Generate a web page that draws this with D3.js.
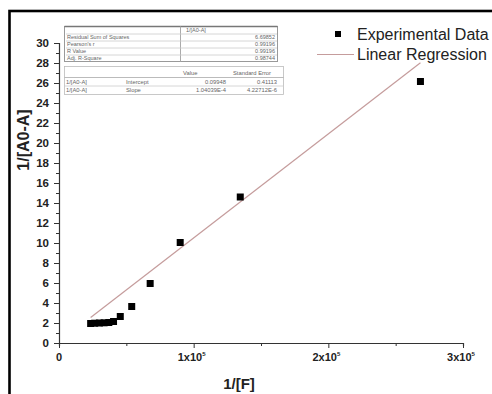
<!DOCTYPE html>
<html>
<head>
<meta charset="utf-8">
<script src="https://cdn.jsdelivr.net/npm/d3@7"></script>
<style>
  html, body { margin: 0; padding: 0; background: #fff; }
  svg { display: block; font-family: "Liberation Sans", Arial, sans-serif; }
</style>
</head>
<body>
<svg id="chart" width="492" height="394"></svg>
<script>
// Measured reciprocal data: 1/[F] against 1/[A0-A]
const invF = [23500, 26500, 30000, 33500, 37000, 40500, 45500, 54000, 67700, 90000, 134600, 268400];
const invA = [1.95, 1.98, 2.0, 2.02, 2.05, 2.15, 2.65, 3.65, 5.95, 10.05, 14.6, 26.15];

// Linear fit parameters
const fitIntercept = 0.09948;
const fitSlope = 1.04039e-4;

// Fit statistics tables
const statLabels = ["Residual Sum of Squares", "Pearson's r", "R Value", "Adj. R-Square"];
const statValues = ["6.69852", "0.99196", "0.99196", "0.98744"];
const paramRows = [
  ["1/[A0-A]", "Intercept", "0.09948", "0.41113"],
  ["1/[A0-A]", "Slope", "1.04039E-4", "4.22712E-6"]
];

// Axis ticks
const xTicks = [0, 1e5, 2e5, 3e5];
const xTickLabels = ["0", "1x10", "2x10", "3x10"];
const yTicks = d3.range(0, 31, 2);

const svg = d3.select("#chart");

// outer frame
svg.append("rect")
  .attr("x", 9.5).attr("y", 11).attr("width", 500).attr("height", 400)
  .attr("fill", "none").attr("stroke", "#000").attr("stroke-width", 2.6);

const x = d3.scaleLinear().domain([0, 3e5]).range([59, 463]);
const y = d3.scaleLinear().domain([0, 30]).range([343, 43]);

const axisColor = "#333";

// x axis
const xAxis = svg.append("g").attr("transform", `translate(0,${y(0)})`);
xAxis.call(d3.axisBottom(x).tickValues(d3.range(0, 3e5 + 1, 5e4)).tickSize(3).tickFormat(""));
xAxis.selectAll(".tick line").attr("stroke", axisColor)
  .attr("y2", d => (d % 1e5 === 0 ? 5 : 3));
xAxis.select(".domain").attr("stroke", axisColor).attr("stroke-width", 1.2);

xTicks.forEach((v, i) => {
  const t = svg.append("text")
    .attr("x", x(v) - (i === 0 ? 0 : 2)).attr("y", 361)
    .attr("text-anchor", "middle")
    .attr("font-size", 11).attr("font-weight", "bold").attr("fill", "#222");
  t.append("tspan").text(xTickLabels[i]);
  if (i > 0) {
    t.append("tspan").attr("dy", -5).attr("font-size", 6).text("5");
  }
});

// y axis
const yAxis = svg.append("g").attr("transform", `translate(${x(0)},0)`);
yAxis.call(d3.axisLeft(y).tickValues(d3.range(0, 31, 1)).tickSize(3).tickFormat(""));
yAxis.selectAll(".tick line").attr("stroke", axisColor)
  .attr("x2", d => (d % 2 === 0 ? -5 : -3));
yAxis.select(".domain").attr("stroke", axisColor).attr("stroke-width", 1.2);

svg.append("g").selectAll("text").data(yTicks).join("text")
  .attr("x", 49).attr("y", d => y(d) + 4)
  .attr("text-anchor", "end")
  .attr("font-size", 11.5).attr("font-weight", "bold").attr("fill", "#222")
  .text(d => d);

// axis titles
svg.append("text")
  .attr("x", 239).attr("y", 389)
  .attr("text-anchor", "middle")
  .attr("font-size", 15).attr("font-weight", "bold").attr("fill", "#222")
  .text("1/[F]");
svg.append("text")
  .attr("transform", "translate(29,140) rotate(-90)")
  .attr("text-anchor", "middle")
  .attr("font-size", 16).attr("font-weight", "bold").attr("fill", "#222")
  .text("1/[A0-A]");

// regression line across the data range
const xr = d3.extent(invF);
const line = d3.line().x(d => x(d)).y(d => y(fitIntercept + fitSlope * d));
svg.append("path")
  .datum(xr)
  .attr("d", line)
  .attr("fill", "none").attr("stroke", "#c59c9c").attr("stroke-width", 1.2);

// data points
const ms = 7;
svg.append("g").selectAll("rect").data(invF).join("rect")
  .attr("x", (d) => x(d) - ms / 2)
  .attr("y", (d, i) => y(invA[i]) - ms / 2)
  .attr("width", ms).attr("height", ms)
  .attr("fill", "#000");

// legend
svg.append("rect").attr("x", 335).attr("y", 31).attr("width", 6).attr("height", 6).attr("fill", "#000");
svg.append("text").attr("x", 357).attr("y", 40).attr("font-size", 16).attr("fill", "#222")
  .text("Experimental Data");
svg.append("line").attr("x1", 317).attr("x2", 354).attr("y1", 54.5).attr("y2", 54.5)
  .attr("stroke", "#c59c9c").attr("stroke-width", 1.2);
svg.append("text").attr("x", 357).attr("y", 60).attr("font-size", 16).attr("fill", "#222")
  .text("Linear Regression");

// fit statistics table
const tc = "#666";
const fs = 5.5;
const t1 = svg.append("g");
t1.append("rect").attr("x", 64.5).attr("y", 26.5).attr("width", 213).attr("height", 35)
  .attr("fill", "#fff").attr("stroke", "#999").attr("stroke-width", 1);
t1.append("line").attr("x1", 64.5).attr("x2", 277.5).attr("y1", 26.5).attr("y2", 26.5)
  .attr("stroke", "#777").attr("stroke-width", 1.6);
t1.append("line").attr("x1", 180.5).attr("x2", 180.5).attr("y1", 26.5).attr("y2", 61.5)
  .attr("stroke", "#aaa");
t1.append("text").attr("x", 186).attr("y", 31.5).attr("font-size", fs).attr("fill", tc).text("1/[A0-A]");
statLabels.forEach((s, i) => {
  const ry = 33.5 + i * 7;
  t1.append("line").attr("x1", 66).attr("x2", 277).attr("y1", ry + 0.5).attr("y2", ry + 0.5)
    .attr("stroke", "#ccc").attr("stroke-width", 0.8);
  t1.append("text").attr("x", 67).attr("y", ry + 5.5).attr("font-size", fs).attr("fill", tc).text(s);
  t1.append("text").attr("x", 275).attr("y", ry + 5.5).attr("text-anchor", "end")
    .attr("font-size", fs).attr("fill", tc).text(statValues[i]);
});

const t2 = svg.append("g");
t2.append("rect").attr("x", 64.5).attr("y", 66.5).attr("width", 219).attr("height", 28)
  .attr("fill", "#fff").attr("stroke", "#bbb").attr("stroke-width", 0.8);
t2.append("text").attr("x", 183).attr("y", 75).attr("font-size", fs + 0.3).attr("fill", tc).text("Value");
t2.append("text").attr("x", 233).attr("y", 75).attr("font-size", fs + 0.3).attr("fill", tc).text("Standard Error");
t2.append("line").attr("x1", 64.5).attr("x2", 283.5).attr("y1", 77.5).attr("y2", 77.5)
  .attr("stroke", "#aaa").attr("stroke-width", 0.8);
paramRows.forEach((r, i) => {
  const ry = 77.5 + i * 8;
  if (i > 0) t2.append("line").attr("x1", 64.5).attr("x2", 283.5).attr("y1", ry + 0.5).attr("y2", ry + 0.5)
    .attr("stroke", "#ccc").attr("stroke-width", 0.8);
  t2.append("text").attr("x", 66).attr("y", ry + 6).attr("font-size", fs + 0.3).attr("fill", tc).text(r[0]);
  t2.append("text").attr("x", 126).attr("y", ry + 6).attr("font-size", fs + 0.3).attr("fill", tc).text(r[1]);
  t2.append("text").attr("x", 226).attr("y", ry + 6).attr("text-anchor", "end").attr("font-size", fs + 0.3).attr("fill", tc).text(r[2]);
  t2.append("text").attr("x", 277).attr("y", ry + 6).attr("text-anchor", "end").attr("font-size", fs + 0.3).attr("fill", tc).text(r[3]);
});
</script>
</body>
</html>
